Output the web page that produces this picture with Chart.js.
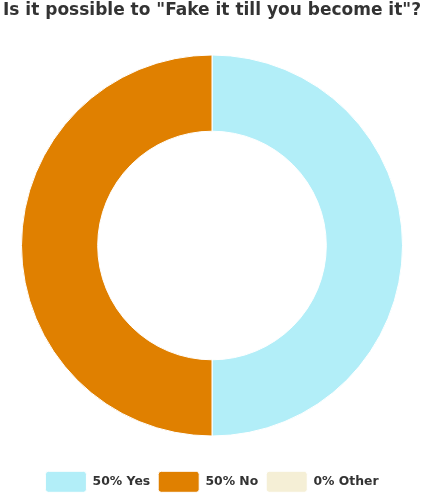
<!DOCTYPE html>
<html>
<head>
<meta charset="utf-8">
<script src="https://cdn.jsdelivr.net/npm/chart.js@4.4.1/dist/chart.umd.min.js"></script>
<style>
  html, body { margin: 0; padding: 0; background: #fff; overflow: hidden; }
  #wrap { position: relative; width: 424px; height: 494px; }
</style>
</head>
<body>
<div id="wrap"><canvas id="chart"></canvas></div>
<script>
const title = 'Is it possible to "Fake it till you become it"?';
const categories = ['Yes', 'No', 'Other'];
const percents = [50, 50, 0];
const colors = ['#b2eef8', '#e08000', '#f5efd6'];

const labels = categories.map((c, i) => percents[i] + '% ' + c);

new Chart(document.getElementById('chart'), {
  type: 'doughnut',
  data: {
    labels: labels,
    datasets: [{
      data: percents,
      backgroundColor: colors,
      borderColor: '#fff',
      borderWidth: 1,
      hoverOffset: 0
    }]
  },
  options: {
    responsive: true,
    maintainAspectRatio: false,
    animation: false,
    cutout: '60%',
    layout: { padding: { left: 0, right: 0, top: 0, bottom: -8.3 } },
    plugins: {
      title: {
        display: true,
        text: title,
        color: '#333',
        font: { family: 'DejaVu Sans', size: 17, weight: 'bold', lineHeight: 1.2 },
        padding: { top: 0.6, bottom: 33.5 }
      },
      legend: {
        position: 'bottom',
        // empty legend title only used as a spacer above the items
        title: {
          display: true,
          text: '',
          font: { size: 10, lineHeight: 1.2 },
          padding: { top: 0, bottom: 14.8 }
        },
        labels: {
          boxWidth: 41,
          boxHeight: 21,
          padding: 8,
          color: '#333',
          useBorderRadius: true,
          borderRadius: 3,
          font: { family: 'DejaVu Sans', size: 12.4, weight: 'bold' }
        }
      },
      tooltip: { enabled: false }
    }
  }
});
</script>
</body>
</html>
